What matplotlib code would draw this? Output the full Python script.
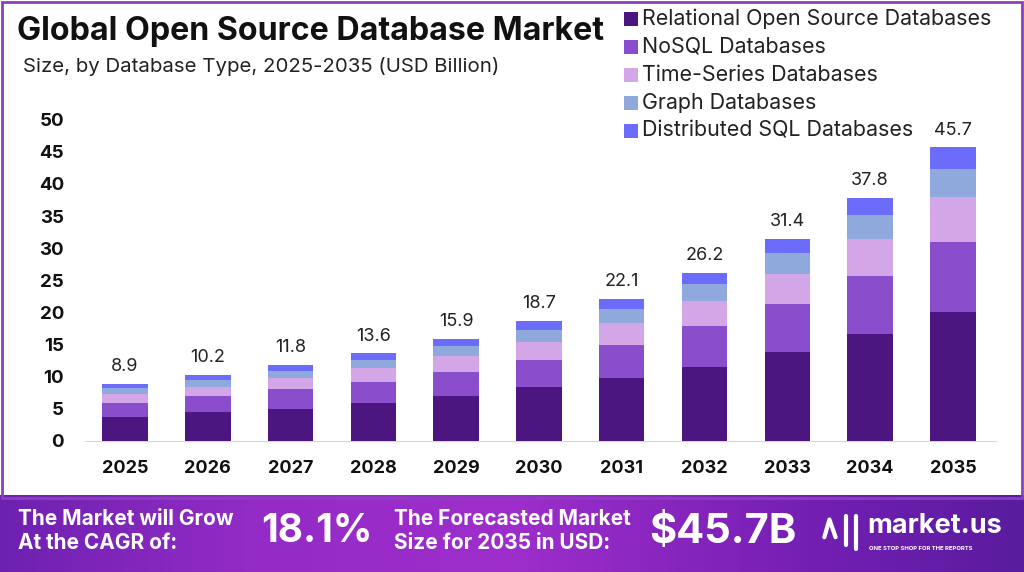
import numpy as np
import matplotlib.pyplot as plt
from matplotlib.patches import Rectangle

years = ['2025', '2026', '2027', '2028', '2029', '2030', '2031', '2032', '2033', '2034', '2035']
totals = [8.9, 10.2, 11.8, 13.6, 15.9, 18.7, 22.1, 26.2, 31.4, 37.8, 45.7]

relational = [3.7, 4.5, 5.0, 5.9, 7.0, 8.3, 9.7, 11.5, 13.8, 16.6, 20.0]
nosql = [2.2, 2.4, 3.0, 3.3, 3.7, 4.3, 5.2, 6.3, 7.5, 9.0, 11.0]
time_series = [1.4, 1.5, 1.7, 2.1, 2.5, 2.8, 3.4, 4.0, 4.7, 5.9, 6.9]
graph = [0.9, 1.0, 1.2, 1.3, 1.5, 1.8, 2.2, 2.6, 3.2, 3.7, 4.5]
dist_sql = [0.7, 0.8, 0.9, 1.0, 1.2, 1.5, 1.6, 1.8, 2.2, 2.6, 3.3]

series = [
    ('Relational Open Source Databases', relational, '#4b1680'),
    ('NoSQL Databases', nosql, '#8a4ecd'),
    ('Time-Series Databases', time_series, '#d3a6e8'),
    ('Graph Databases', graph, '#8fa9dc'),
    ('Distributed SQL Databases', dist_sql, '#6c6cfb'),
]

plt.rcParams['font.family'] = ['Inter', 'DejaVu Sans']

fig = plt.figure(figsize=(10.24, 5.72), dpi=100)
fig.patch.set_facecolor('white')

# frame round the chart area
fig.add_artist(Rectangle((0.002, 0.13), 0.996, 0.867, transform=fig.transFigure,
                         fill=False, edgecolor='#8a3fc0', linewidth=2))

ax = fig.add_axes([0.083, 0.2296, 0.8896, 0.617])
x = np.arange(len(years))
bottom = np.zeros(len(years))
for name, vals, color in series:
    ax.bar(x, vals, width=0.55, bottom=bottom, color=color, label=name, zorder=3)
    bottom += np.array(vals)

for xi, t in zip(x, totals):
    ax.text(xi, t + 2.7, f'{t}', ha='center', va='center', fontsize=13, color='#222222')

ax.set_xlim(-0.483, 10.52)
ax.set_ylim(0, 55)
ax.set_yticks(range(0, 51, 5))
ax.set_xticks(x)
ax.set_xticklabels(years)
for spine in ['top', 'right', 'left']:
    ax.spines[spine].set_visible(False)
ax.spines['bottom'].set_color('#d5d5d5')
ax.tick_params(axis='both', length=0, labelsize=13.5)
ax.tick_params(axis='x', pad=14, labelsize=13)
ax.tick_params(axis='y', pad=15)
for lbl in ax.get_xticklabels() + ax.get_yticklabels():
    lbl.set_fontweight('bold')
    lbl.set_color('#111111')

fig.text(0.017, 0.945, 'Global Open Source Database Market', fontsize=23.2,
         fontweight='bold', color='#111111', va='center')
fig.text(0.022, 0.884, 'Size, by Database Type, 2025-2035 (USD Billion)', fontsize=14.7,
         color='#222222', va='center')

# legend
for i, (name, vals, color) in enumerate(series):
    yy = 1 - (19 + 28 * i) / 572
    fig.add_artist(Rectangle((0.6095, yy - 0.012), 0.0135, 0.024, transform=fig.transFigure,
                             facecolor=color, edgecolor='none'))
    fig.text(0.627, yy, name, fontsize=15.4, color='#222222', va='center')

# bottom banner with gradient
bax = fig.add_axes([0, 0, 1, 0.135])
grad = np.linspace(0, 1, 512)
r = np.interp(grad, [0, 0.25, 0.5, 0.8, 1], [0.43, 0.58, 0.62, 0.45, 0.35])
g = np.interp(grad, [0, 0.25, 0.5, 0.8, 1], [0.13, 0.17, 0.18, 0.12, 0.11])
b = np.interp(grad, [0, 0.25, 0.5, 0.8, 1], [0.69, 0.78, 0.80, 0.70, 0.62])
img = np.dstack([r, g, b])
bax.imshow(img, aspect='auto', extent=[0, 1, 0, 1])
bax.set_xlim(0, 1)
bax.set_ylim(0, 1)
bax.axis('off')

bax.text(0.018, 0.68, 'The Market will Grow', color='white', fontsize=15,
         fontweight='bold', va='center')
bax.text(0.018, 0.37, 'At the CAGR of:', color='white', fontsize=15,
         fontweight='bold', va='center')
bax.text(0.255, 0.52, '18.1%', color='white', fontsize=28, fontweight='bold', va='center')
bax.text(0.385, 0.68, 'The Forecasted Market', color='white', fontsize=15,
         fontweight='bold', va='center')
bax.text(0.385, 0.37, 'Size for 2035 in USD:', color='white', fontsize=15,
         fontweight='bold', va='center')
bax.text(0.634, 0.52, '$45.7B', color='white', fontsize=30, fontweight='bold', va='center')
bax.text(0.847, 0.60, 'market.us', color='white', fontsize=19.5, fontweight='bold', va='center')
bax.text(0.849, 0.30, 'ONE STOP SHOP FOR THE REPORTS', color='white', fontsize=4.3,
         fontweight='bold', va='center')
# simple logo mark
bax.plot([0.805, 0.810, 0.816], [0.45, 0.68, 0.45], color='white', lw=3, solid_capstyle='round')
bax.plot([0.826, 0.826], [0.35, 0.72], color='white', lw=3, solid_capstyle='round')
bax.plot([0.836, 0.836], [0.30, 0.72], color='white', lw=3, solid_capstyle='round')

fig.savefig('out.png', dpi=100, facecolor='white')
